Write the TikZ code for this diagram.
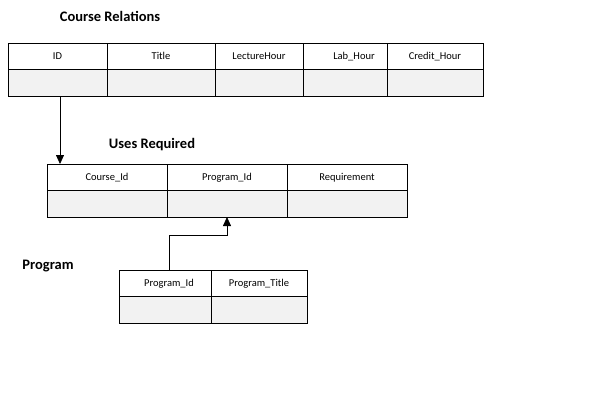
\documentclass[tikz,border=0pt]{standalone}
\usepackage{fontspec}
\setmainfont{Carlito}
\usepackage{tikz}
\usetikzlibrary{arrows,arrows.meta,positioning}
\definecolor{cellgray}{HTML}{F2F2F2}
\tikzset{
        field/.style = {draw, rectangle, anchor=north west,
            inner sep=0pt, outer sep=0pt,
            minimum height=26.5pt,
            minimum width=#1,
            font=\fontsize{10.5}{12}\selectfont},
        blank/.style = {field=#1, fill=cellgray},
        relname/.style = {font=\bfseries\fontsize{14.5}{16}\selectfont},
        link/.style={draw, -{Triangle[length=9pt,width=8pt]}, line width=0.8pt},
    }

\begin{document}
\begin{tikzpicture}[x=1pt,y=-1pt,line width=0.8pt]
    \useasboundingbox (0,0) rectangle (593,408);

    % Course Relations
    \node[relname] (crel) at (110,16) {Course Relations};
    \node[field=99pt] (r1) at (8,43) {ID};
    \node[field=108pt, right=0pt of r1] (r2) {Title};
    \node[field=88pt, right=0pt of r2] (r3) {LectureHour};
    \node[field=84pt, right=0pt of r3] (r4) {\hspace{18pt}Lab\_Hour};
    \node[field=96pt, right=0pt of r4] (r5) {Credit\_Hour};
    \node[blank=99pt, below=0pt of r1] (s1) {};
    \node[blank=108pt, below=0pt of r2] (s2) {};
    \node[blank=88pt, below=0pt of r3] (s3) {};
    \node[blank=84pt, below=0pt of r4] (s4) {};
    \node[blank=96pt, below=0pt of r5] (s5) {};

    % Uses Required
    \node[relname] (ureq) at (152,145) {Uses Required};
    \node[field=120pt] (u1) at (47,164) {Course\_Id};
    \node[field=120pt, right=0pt of u1] (u2) {Program\_Id};
    \node[field=120pt, right=0pt of u2] (u3) {Requirement};
    \node[blank=120pt, below=0pt of u1] (v1) {};
    \node[blank=120pt, below=0pt of u2] (v2) {};
    \node[blank=120pt, below=0pt of u3] (v3) {};

    % Program
    \node[relname] (prog) at (48,266) {Program};
    \node[field=92pt] (p1) at (119,270) {\hspace{8pt}Program\_Id};
    \node[field=96pt, right=0pt of p1] (p2) {Program\_Title};
    \node[blank=92pt, below=0pt of p1] (q1) {};
    \node[blank=96pt, below=0pt of p2] (q2) {};

    % links
    \coordinate (cid) at ([xshift=2.5pt]s1.south);
    \draw[link] (cid) -- (cid |- u1.north);
    \coordinate (pid) at ([xshift=4pt]p1.north);
    \coordinate (bend) at ([yshift=35pt]pid);
    \draw[link] (pid) -- (bend) -| (v2.south);
\end{tikzpicture}
\end{document}
